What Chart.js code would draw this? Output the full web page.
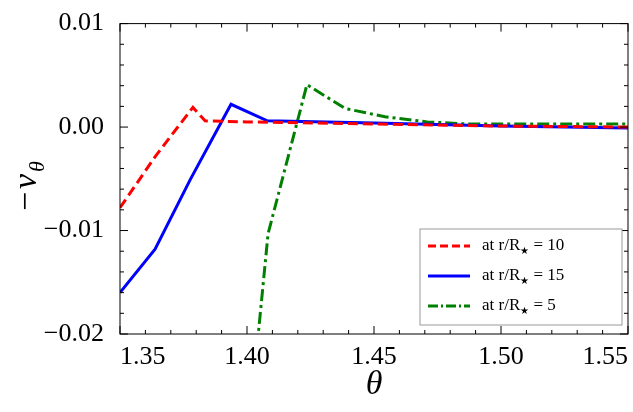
<!DOCTYPE html>
<html><head><meta charset="utf-8">
<script src="https://cdn.jsdelivr.net/npm/chart.js@4/dist/chart.umd.min.js"></script>
<style>html,body{margin:0;background:#fff}#wrap{width:633px;height:412px}</style>
</head><body><div id="wrap"><canvas id="c"></canvas></div>
<script>
'use strict';
const FONT = "'Liberation Serif', 'DejaVu Serif', serif";

// r/R* = 10
const redX = [1.35, 1.364, 1.3787, 1.3835, 1.40, 1.45, 1.50, 1.55];
const redY = [-0.0078, -0.0028, 0.0019, 0.0006, 0.0005, 0.0003, 0.0001, 0.0000];
// r/R* = 15
const blueX = [1.35, 1.3638, 1.3776, 1.3937, 1.408, 1.45, 1.50, 1.55];
const blueY = [-0.016, -0.0118, -0.0051, 0.0022, 0.0006, 0.0004, 0.0001, -0.0001];
// r/R* = 5
const greenX = [1.3925, 1.4083, 1.4236, 1.4386, 1.4543, 1.471, 1.4866, 1.52, 1.55];
const greenY = [-0.05, -0.0103, 0.0041, 0.0018, 0.0010, 0.0005, 0.0003, 0.0003, 0.0003];

const xTicks = [1.35, 1.40, 1.45, 1.50, 1.55];
const yTicks = [-0.02, -0.01, 0.00, 0.01];

const pts = (xs, ys) => xs.map((x, i) => ({ x, y: ys[i] }));

const decor = {
  id: 'decor',
  afterDraw(chart) {
    const { ctx, chartArea: a, scales } = chart;
    const xs = scales.x, ys = scales.y;
    ctx.save();
    ctx.strokeStyle = '#000';
    ctx.lineWidth = 1;
    ctx.strokeRect(a.left, a.top, a.width, a.height);
    // ticks inside, all sides
    ctx.beginPath();
    for (let v = 1.35; v <= 1.5501; v += 0.01) {
      const major = Math.abs((v - 1.35) / 0.05 - Math.round((v - 1.35) / 0.05)) < 1e-6;
      const L = major ? 8 : 4;
      const px = xs.getPixelForValue(v);
      ctx.moveTo(px, a.bottom); ctx.lineTo(px, a.bottom - L);
      ctx.moveTo(px, a.top); ctx.lineTo(px, a.top + L);
    }
    for (let v = -0.02; v <= 0.01001; v += 0.002) {
      const major = Math.abs(v / 0.01 - Math.round(v / 0.01)) < 1e-6;
      const L = major ? 8 : 4;
      const py = ys.getPixelForValue(v);
      ctx.moveTo(a.left, py); ctx.lineTo(a.left + L, py);
      ctx.moveTo(a.right, py); ctx.lineTo(a.right - L, py);
    }
    ctx.stroke();
    // axis titles
    ctx.fillStyle = '#000';
    ctx.font = 'italic 34px ' + FONT;
    ctx.textAlign = 'center';
    ctx.textBaseline = 'alphabetic';
    ctx.fillText('θ', (a.left + a.right) / 2, 394);
    ctx.save();
    ctx.translate(36, 175);
    ctx.rotate(-Math.PI / 2);
    ctx.textAlign = 'left';
    ctx.font = '34px ' + FONT;
    ctx.fillText('−', -36, 0);
    ctx.font = 'italic 34px ' + FONT;
    ctx.fillText('v', -14, 0);
    ctx.font = 'italic 22px ' + FONT;
    ctx.fillText('θ', 3, 8);
    ctx.restore();
    // legend
    const bx = 420, by = 229, bw = 202, bh = 96;
    ctx.fillStyle = '#fff';
    ctx.strokeStyle = '#999';
    ctx.fillRect(bx, by, bw, bh);
    ctx.strokeRect(bx, by, bw, bh);
    const items = [
      ['#f00', [8, 4], '10'],
      ['#00f', [], '15'],
      ['#008000', [10, 3, 2, 3], '5'],
    ];
    items.forEach((it, i) => {
      const y = by + 17 + i * 30;
      ctx.strokeStyle = it[0];
      ctx.lineWidth = 3;
      ctx.setLineDash(it[1]);
      ctx.beginPath(); ctx.moveTo(bx + 8, y); ctx.lineTo(bx + 50, y); ctx.stroke();
      ctx.setLineDash([]);
      ctx.fillStyle = '#000';
      ctx.textAlign = 'left';
      ctx.textBaseline = 'middle';
      ctx.font = '17px ' + FONT;
      let tx = bx + 62;
      ctx.fillText('at r/R', tx, y); tx += ctx.measureText('at r/R').width;
      ctx.font = '10px ' + FONT;
      ctx.fillText('★', tx, y + 5); tx += ctx.measureText('★').width;
      ctx.font = '17px ' + FONT;
      ctx.fillText(' = ' + it[2], tx, y);
    });
    ctx.restore();
  }
};

const ds = (label, data, color, dash) => ({
  label, data, borderColor: color, backgroundColor: 'transparent',
  borderWidth: 3, borderDash: dash, pointRadius: 0, tension: 0, clip: 0,
});

new Chart(document.getElementById('c'), {
  type: 'line',
  plugins: [decor],
  data: {
    datasets: [
      ds('at r/R* = 10', pts(redX, redY), '#f00', [10, 5]),
      ds('at r/R* = 15', pts(blueX, blueY), '#00f', []),
      ds('at r/R* = 5', pts(greenX, greenY), '#008000', [12, 4, 3, 4]),
    ],
  },
  options: {
    responsive: true,
    maintainAspectRatio: false,
    animation: false,
    layout: { padding: { top: 18, right: 5, left: 0, bottom: 0 } },
    plugins: { legend: { display: false }, tooltip: { enabled: false } },
    scales: {
      x: {
        type: 'linear', min: 1.35, max: 1.55,
        afterFit(s) { s.height = 78; s.paddingRight = 0; s.paddingLeft = 0; },
        afterBuildTicks(s) { s.ticks = xTicks.map(v => ({ value: v })); },
        grid: { display: false }, border: { display: false },
        ticks: { color: '#000', padding: 0, maxRotation: 0, align: 'inner', font: { family: FONT, size: 26 }, callback: v => v.toFixed(2) },
      },
      y: {
        min: -0.02, max: 0.01,
        afterFit(s) { s.width = 120; },
        afterBuildTicks(s) { s.ticks = yTicks.map(v => ({ value: v })); },
        grid: { display: false }, border: { display: false },
        ticks: { color: '#000', padding: 8, font: { family: FONT, size: 26 },
          callback: v => (v < 0 ? '−' : '') + Math.abs(v).toFixed(2) },
      },
    },
  },
});
</script></body></html>
